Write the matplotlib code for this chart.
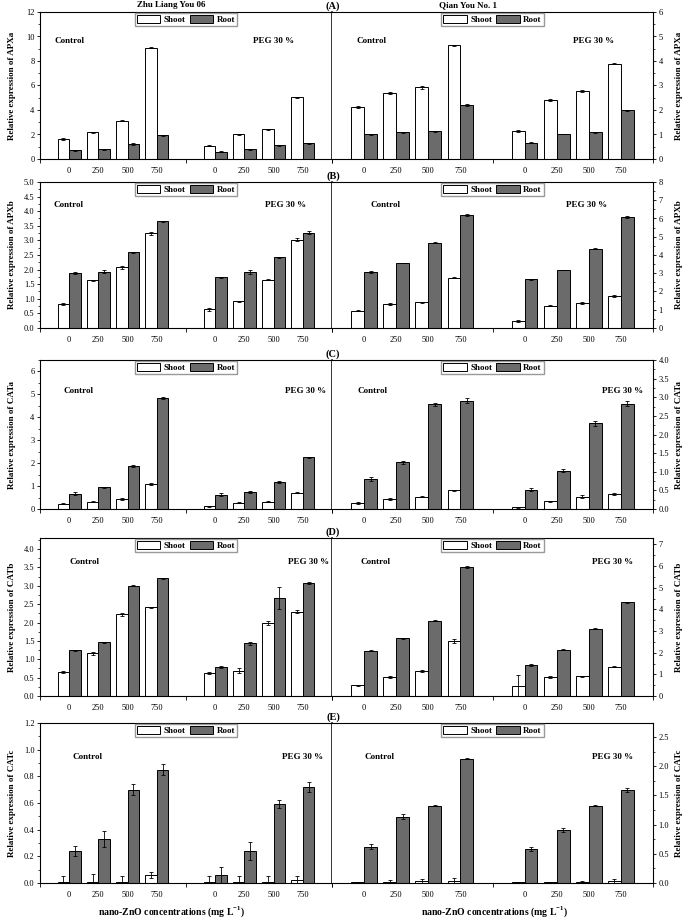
import matplotlib
matplotlib.use('Agg')
import matplotlib.pyplot as plt
from matplotlib.ticker import MultipleLocator, AutoMinorLocator, FormatStrFormatter

plt.rcParams['font.family'] = ['Liberation Serif', 'DejaVu Serif']
plt.rcParams['mathtext.fontset'] = 'custom'
plt.rcParams['mathtext.rm'] = 'Liberation Serif'
plt.rcParams['mathtext.bf'] = 'Liberation Serif:bold'

cultivars = ['Zhu Liang You 06', 'Qian You No. 1']
genes = ['APXa', 'APXb', 'CATa', 'CATb', 'CATc']
tags = ['(A)', '(B)', '(C)', '(D)', '(E)']
conc = ['0', '250', '500', '750']
tissues = ['Shoot', 'Root']
treatments = ['Control', 'PEG 30 %']

# each list: [shoot, root]; 8 values = Control 0..750, then PEG 30 % 0..750
apxa_zly = [[1.63, 2.17, 3.12, 9.08, 1.09, 2.01, 2.42, 5.03],
            [0.73, 0.79, 1.25, 1.93, 0.60, 0.79, 1.11, 1.28]]
apxa_zly_err = [[0.05, 0.05, 0.05, 0.05, 0.04, 0.05, 0.05, 0.04],
                [0.04, 0.04, 0.08, 0.06, 0.03, 0.04, 0.06, 0.05]]
apxa_qy = [[2.14, 2.70, 2.92, 4.65, 1.15, 2.41, 2.76, 3.89],
           [1.00, 1.09, 1.13, 2.21, 0.66, 1.02, 1.09, 1.98]]
apxa_qy_err = [[0.04, 0.04, 0.05, 0.02, 0.03, 0.03, 0.04, 0.02],
               [0.02, 0.02, 0.02, 0.03, 0.02, 0.02, 0.02, 0.03]]

apxb_zly = [[0.82, 1.63, 2.08, 3.24, 0.64, 0.91, 1.65, 3.03],
            [1.88, 1.93, 2.59, 3.65, 1.73, 1.93, 2.42, 3.27]]
apxb_zly_err = [[0.03, 0.02, 0.05, 0.06, 0.06, 0.02, 0.02, 0.04],
                [0.04, 0.06, 0.02, 0.03, 0.03, 0.07, 0.02, 0.06]]
apxb_qy = [[0.95, 1.30, 1.40, 2.75, 0.40, 1.22, 1.35, 1.76],
           [3.06, 3.56, 4.68, 6.19, 2.66, 3.18, 4.35, 6.08]]
apxb_qy_err = [[0.04, 0.05, 0.05, 0.02, 0.06, 0.03, 0.05, 0.05],
               [0.07, 0.02, 0.03, 0.05, 0.04, 0.02, 0.02, 0.06]]

cata_zly = [[0.23, 0.32, 0.44, 1.09, 0.12, 0.28, 0.32, 0.71],
            [0.66, 0.95, 1.86, 4.86, 0.63, 0.73, 1.18, 2.26]]
cata_zly_err = [[0.03, 0.03, 0.03, 0.04, 0.03, 0.02, 0.02, 0.03],
                [0.06, 0.03, 0.04, 0.04, 0.07, 0.04, 0.03, 0.03]]
cata_qy = [[0.16, 0.26, 0.33, 0.50, 0.045, 0.21, 0.33, 0.40],
           [0.80, 1.26, 2.81, 2.91, 0.52, 1.03, 2.30, 2.83]]
cata_qy_err = [[0.02, 0.03, 0.02, 0.02, 0.01, 0.01, 0.04, 0.03],
               [0.05, 0.04, 0.04, 0.07, 0.04, 0.05, 0.06, 0.07]]

catb_zly = [[0.66, 1.16, 2.22, 2.41, 0.62, 0.69, 1.98, 2.29],
            [1.24, 1.46, 3.00, 3.20, 0.78, 1.43, 2.68, 3.07]]
catb_zly_err = [[0.03, 0.04, 0.05, 0.02, 0.03, 0.07, 0.05, 0.04],
                [0.02, 0.02, 0.01, 0.01, 0.03, 0.04, 0.30, 0.03]]
catb_qy = [[0.50, 0.88, 1.16, 2.55, 0.45, 0.87, 0.91, 1.35],
           [2.10, 2.66, 3.48, 5.96, 1.42, 2.14, 3.11, 4.33]]
catb_qy_err = [[0.02, 0.03, 0.04, 0.08, 0.52, 0.06, 0.03, 0.03],
               [0.03, 0.02, 0.03, 0.03, 0.04, 0.01, 0.03, 0.03]]

catc_zly = [[0.01, 0.01, 0.01, 0.06, 0.01, 0.01, 0.01, 0.02],
            [0.24, 0.33, 0.70, 0.85, 0.06, 0.24, 0.59, 0.72]]
catc_zly_err = [[0.04, 0.06, 0.04, 0.02, 0.04, 0.04, 0.04, 0.03],
                [0.04, 0.06, 0.04, 0.04, 0.06, 0.07, 0.03, 0.04]]
catc_qy = [[0.01, 0.015, 0.03, 0.04, 0.01, 0.01, 0.015, 0.03],
           [0.62, 1.135, 1.325, 2.13, 0.58, 0.91, 1.325, 1.59]]
catc_qy_err = [[0.01, 0.03, 0.04, 0.04, 0.01, 0.01, 0.02, 0.04],
               [0.04, 0.04, 0.01, 0.01, 0.03, 0.04, 0.01, 0.04]]

left_data = [(apxa_zly, apxa_zly_err), (apxb_zly, apxb_zly_err), (cata_zly, cata_zly_err),
             (catb_zly, catb_zly_err), (catc_zly, catc_zly_err)]
right_data = [(apxa_qy, apxa_qy_err), (apxb_qy, apxb_qy_err), (cata_qy, cata_qy_err),
              (catb_qy, catb_qy_err), (catc_qy, catc_qy_err)]

# y axis setup per row: (top, step, decimals)
left_y = [(12, 2, 0), (5.0, 0.5, 1), (6.5, 1, 0), (4.3, 0.5, 1), (1.2, 0.2, 1)]
right_y = [(6, 1, 0), (8, 1, 0), (4.0, 0.5, 1), (7.3, 1, 0), (2.74, 0.5, 1)]

# text positions (axes fraction) for Control / PEG labels
left_txt = [((0.05, 0.8), (0.73, 0.8)), ((0.045, 0.84), (0.77, 0.84)), ((0.08, 0.79), (0.84, 0.79)),
            ((0.10, 0.85), (0.85, 0.85)), ((0.11, 0.79), (0.83, 0.79))]
right_txt = [((0.075, 0.8), (0.75, 0.8)), ((0.12, 0.84), (0.73, 0.84)), ((0.078, 0.79), (0.84, 0.79)),
             ((0.09, 0.85), (0.81, 0.85)), ((0.10, 0.79), (0.81, 0.79))]

W, H = 685, 921
rows_px = [(12, 159), (182, 328), (360, 509), (538, 696), (723, 883)]
left_x, mid_x, right_x = 40, 332, 653

centers = [1, 2, 3, 4, 6, 7, 8, 9]
bw = 0.4
colors = ['white', '#6b6b6b']
fs = 6.5
tfs = 6

fig = plt.figure(figsize=(W / 100, H / 100), dpi=100)


def draw_panel(ax, vals, errs, ylim, txtpos, side, gene):
    for i in range(2):
        xs = [c + (i - 0.5) * bw for c in centers]
        ax.bar(xs, vals[i], width=bw, color=colors[i], edgecolor='black', linewidth=0.7,
               label=tissues[i], zorder=2)
        ax.errorbar(xs, vals[i], yerr=errs[i], fmt='none', ecolor='black', elinewidth=0.6,
                    capsize=1.5, capthick=0.6, zorder=3)
    top, step, dec = ylim
    ax.set_xlim(0, 10)
    ax.set_ylim(0, top)
    ax.yaxis.set_major_locator(MultipleLocator(step))
    ax.yaxis.set_minor_locator(AutoMinorLocator(2))
    ax.yaxis.set_major_formatter(FormatStrFormatter('%.{}f'.format(dec)))
    ax.set_xticks(centers, conc * 2)
    ax.set_xticks([0, 5, 10], minor=True)
    ax.tick_params(axis='x', which='major', length=0, pad=6, labelsize=tfs)
    ax.tick_params(axis='x', which='minor', length=3, width=0.6, direction='out')
    ax.tick_params(axis='y', which='major', length=2.5, width=0.6, direction='out', labelsize=tfs, pad=1.5)
    ax.tick_params(axis='y', which='minor', length=1.5, width=0.5, direction='out')
    for s in ax.spines.values():
        s.set_linewidth(0.8)
    ax.set_ylabel('Relative expression of ' + gene, fontsize=fs, fontweight='bold')
    if side == 'right':
        ax.yaxis.tick_right()
        ax.yaxis.set_label_position('right')
        ax.spines['left'].set_visible(False)
        ax.yaxis.set_label_coords((679 - mid_x) / (right_x - mid_x), 0.5)
    else:
        ax.spines['right'].set_linewidth(1.1)
        ax.yaxis.set_label_coords((12 - left_x) / (mid_x - left_x), 0.5)
    ax.yaxis.label.set_va('center')
    for (tx, ty), t in zip(txtpos, treatments):
        ax.text(tx, ty, t, transform=ax.transAxes, fontsize=fs, fontweight='bold',
                ha='left', va='center')
    ax.legend(loc='upper center', bbox_to_anchor=(0.5, 1.0), ncol=2,
              prop={'size': fs, 'weight': 'bold'}, frameon=True, fancybox=False,
              edgecolor='#999999', framealpha=1, borderpad=0.25, handlelength=2.6,
              handleheight=0.9, columnspacing=0.4, handletextpad=0.4, borderaxespad=0.1)


for r in range(5):
    top_px, bot_px = rows_px[r]
    b = 1 - bot_px / H
    h = (bot_px - top_px) / H
    axl = fig.add_axes([left_x / W, b, (mid_x - left_x) / W, h])
    axr = fig.add_axes([mid_x / W, b, (right_x - mid_x) / W, h])
    draw_panel(axl, left_data[r][0], left_data[r][1], left_y[r], left_txt[r], 'left', genes[r])
    draw_panel(axr, right_data[r][0], right_data[r][1], right_y[r], right_txt[r], 'right', genes[r])
    fig.text(333 / W, 1 - (top_px - 1) / H, tags[r], fontsize=7.5, fontweight='bold',
             ha='center', va='bottom')
    if r == 4:
        xl = 'nano-ZnO concentrations (mg L$^{\\mathbf{-1}}$)'
        fig.text(172 / W, 1 - 912 / H, xl, fontsize=7, fontweight='bold', ha='center', va='center')
        fig.text(495 / W, 1 - 912 / H, xl, fontsize=7, fontweight='bold', ha='center', va='center')

fig.text(171 / W, 1 - 5 / H, cultivars[0], fontsize=6.5, fontweight='bold', ha='center', va='center')
fig.text(468 / W, 1 - 5 / H, cultivars[1], fontsize=6.5, fontweight='bold', ha='center', va='center')

fig.savefig('out.png', dpi=100)
